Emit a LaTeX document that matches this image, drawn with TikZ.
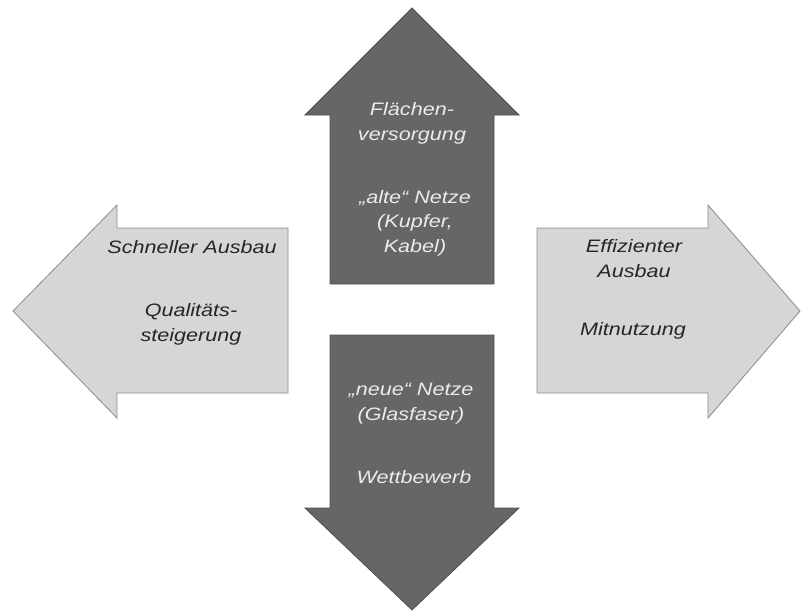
\documentclass[tikz,border=0pt]{standalone}
\usepackage{fontspec}
\newfontfamily\arrowfont{Liberation Sans}[FakeStretch=1.2]
\usetikzlibrary{positioning}

\definecolor{darkarrow}{HTML}{666666}
\definecolor{darkline}{HTML}{4F4F4F}
\definecolor{lightarrow}{HTML}{D6D6D6}
\definecolor{lightline}{HTML}{8C8C8C}

\begin{document}
\begin{tikzpicture}[x=1pt, y=-1pt, align=center,
  every node/.style={font=\arrowfont\itshape\fontsize{18}{24.5}\selectfont, inner sep=0pt, anchor=base},
  darkbox/.style={fill=darkarrow, draw=darkline, line width=0.8pt},
  lightbox/.style={fill=lightarrow, draw=lightline, line width=0.8pt},
  oninner/.style={text=white!92!black},
  onouter/.style={text=black!85}
]
\useasboundingbox (0,0) rectangle (801,611);

% Arrows
\path[darkbox] (412,8) -- (519,115) -- (494,115) -- (494,284) -- (330,284) -- (330,115) -- (305,115) -- cycle;
\path[darkbox] (412,610) -- (519,508) -- (494,508) -- (494,335) -- (330,335) -- (330,508) -- (305,508) -- cycle;
\path[lightbox] (13,311) -- (117,205) -- (117,228) -- (288,228) -- (288,393) -- (117,393) -- (117,418) -- cycle;
\path[lightbox] (800,311) -- (708,205) -- (708,228) -- (537,228) -- (537,393) -- (708,393) -- (708,418) -- cycle;

% Labels (base = last line)
\node[oninner] (flaeche) at (412,140) {Flächen-\\versorgung};
\node[oninner] (alt) at (415,252) {„alte“ Netze\\(Kupfer,\\Kabel)};
\node[oninner] (neu) at (411,420) {„neue“ Netze\\(Glasfaser)};
\node[oninner] (wettbewerb) at (414,483) {Wettbewerb};
\node[onouter] (schnell) at (192,253) {Schneller Ausbau};
\node[onouter] (qualitaet) at (191,341) {Qualitäts-\\steigerung};
\node[onouter] (effizient) at (634,277) {Effizienter\\Ausbau};
\node[onouter] (mitnutzung) at (633,335) {Mitnutzung};

\end{tikzpicture}
\end{document}
